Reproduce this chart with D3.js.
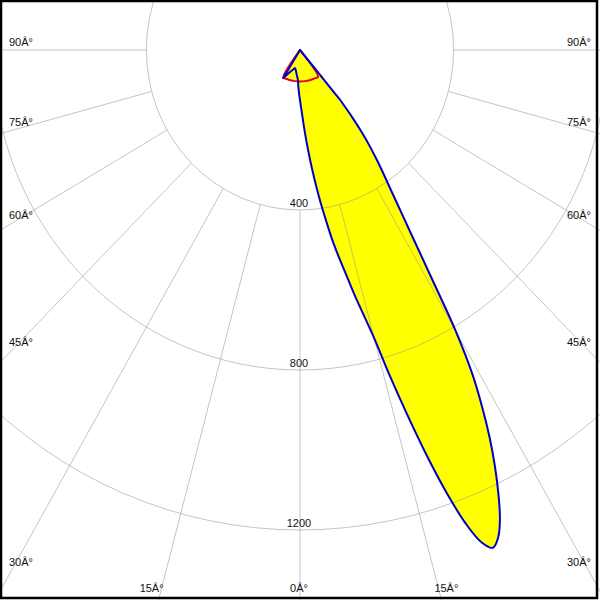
<!DOCTYPE html>
<html>
<head>
<meta charset="utf-8">
<script src="https://cdn.jsdelivr.net/npm/d3@7/dist/d3.min.js"></script>
<style>
html,body{margin:0;padding:0;background:#fff;}
svg{display:block;}
text{font-family:"Liberation Sans",Arial,sans-serif;font-size:11px;fill:#111;}
</style>
</head>
<body>
<svg id="chart" width="600" height="600"></svg>
<script>
// ---- data ----
const ringValues = [400, 800, 1200, 1600];
const ringLabels = ["400", "800", "1200"];
const spokeAngles = [-90, -75, -60, -45, -30, -15, 0, 15, 30, 45, 60, 75, 90];
const angleTickLabels = ["0Â°", "15Â°", "30Â°", "45Â°", "60Â°", "75Â°", "90Â°"];
const angleTickValues = [0, 15, 30, 45, 60, 75, 90];

// C0-C180 plane (blue)
const blueAngles = [-90, -33, -32, -28, -24, -20, -16, -12, -8, -4, -3, -2, -1, 0, 1, 2, 3, 4, 5, 6, 7, 8, 9, 10,
  11, 12, 13, 14, 15, 16, 17, 18, 19, 20, 21, 22, 23, 24, 25, 26, 27, 28, 29, 30,
  31, 32, 33, 34, 35, 36, 37, 38, 39, 40, 42, 90];
const blueValues = [0, 0, 83, 68, 58, 52, 47, 52, 62, 75, 88, 100, 112, 125, 142, 162, 190, 222, 258, 298, 340, 385, 430, 480,
  525, 570, 625, 680, 745, 845, 950, 1062, 1168, 1258, 1318, 1342, 1322, 1280, 1222, 1158, 1088, 1010, 925, 810,
  665, 560, 484, 426, 382, 343, 304, 262, 215, 160, 0, 0];

// C90-C270 plane (red)
const redAngles = [-90, -33, -32, -25, -20, -10, 0, 10, 20, 25, 30, 35, 36, 90];
const redValues = [0, 0, 81, 80, 80, 79, 79, 79, 80, 80, 81, 82, 0, 0];

// ---- geometry ----
const W = 600, H = 600;
const cx = 300, cy = 50;
const xStretch = 0.96;
const rY = d3.scaleLinear().domain([0, 400]).range([0, 160]);
const toRad = d => d * Math.PI / 180;
const px = (a, v) => cx + xStretch * rY(v) * Math.sin(toRad(a));
const py = (a, v) => cy + rY(v) * Math.cos(toRad(a));

const svg = d3.select("#chart");
svg.append("rect").attr("width", W).attr("height", H).attr("fill", "#fff");

const plot = svg.append("g");

const smooth = d3.line().x(d => px(d[0], d[1])).y(d => py(d[0], d[1])).curve(d3.curveCatmullRom.alpha(0.5));
const straight = d3.line().x(d => px(d[0], d[1])).y(d => py(d[0], d[1])).curve(d3.curveLinear);
const blueData = blueAngles.map((a, i) => [a, blueValues[i]]);
const redData = redAngles.map((a, i) => [a, redValues[i]]);

// blue path: straight near the origin kinks, smooth through the lobe
const iStart = blueAngles.indexOf(-4), iEnd = blueAngles.indexOf(40);
const bluePart1 = straight(blueData.slice(0, iStart + 1));
const bluePart2 = smooth(blueData.slice(iStart, iEnd + 1)).replace(/^M/, "L");
const bluePart3 = straight(blueData.slice(iEnd)).replace(/^M/, "L");
const blueD = bluePart1 + bluePart2 + bluePart3 + "Z";
const redD = smooth(redData.slice(1, redData.length - 1)) + straight([[0, 0]]).replace(/^M/, "L") + "Z";

// fills
plot.append("path").attr("d", redD).attr("fill", "#ffff00");
plot.append("path").attr("d", blueD).attr("fill", "#ffff00");

// grid (semi transparent, on top of fill)
const grid = plot.append("g").attr("fill", "none").attr("stroke", "rgb(150,150,150)").attr("stroke-opacity", 0.55).attr("stroke-width", 1);
grid.selectAll("ellipse").data(ringValues).join("ellipse")
  .attr("cx", cx).attr("cy", cy)
  .attr("rx", d => xStretch * rY(d)).attr("ry", d => rY(d));
grid.selectAll("line").data(spokeAngles).join("line")
  .attr("x1", d => px(d, 400)).attr("y1", d => py(d, 400))
  .attr("x2", d => px(d, 2400)).attr("y2", d => py(d, 2400));

// outlines
plot.append("path").attr("d", redD).attr("fill", "none")
  .attr("stroke", "#e0002a").attr("stroke-width", 2).attr("stroke-linejoin", "round");
plot.append("path").attr("d", blueD).attr("fill", "none")
  .attr("stroke", "#0000c8").attr("stroke-width", 2).attr("stroke-linejoin", "round");

// ring labels
svg.selectAll("text.ring").data(ringLabels).join("text").attr("class", "ring")
  .attr("x", cx - 1).attr("y", (d, i) => cy + rY(ringValues[i]) - 3)
  .attr("text-anchor", "middle").text(d => d);

// angle labels
angleTickValues.forEach((a, i) => {
  const lab = angleTickLabels[i];
  if (a >= 30) {
    const y = cy - 4 + 300 * Math.cos(toRad(a)) / Math.sin(toRad(a));
    svg.append("text").attr("x", 21).attr("y", y).attr("text-anchor", "middle").text(lab);
    svg.append("text").attr("x", 579).attr("y", y).attr("text-anchor", "middle").text(lab);
  } else {
    const off = 550 * Math.tan(toRad(a));
    const sides = a === 0 ? [0] : [-1, 1];
    sides.forEach(s => {
      svg.append("text").attr("x", cx + s * off - 1).attr("y", 592).attr("text-anchor", "middle").text(lab);
    });
  }
});

// frame
svg.append("rect").attr("x", 1).attr("y", 1).attr("width", 596).attr("height", 597)
  .attr("fill", "none").attr("stroke", "#000").attr("stroke-width", 2.5);
</script>
</body>
</html>
